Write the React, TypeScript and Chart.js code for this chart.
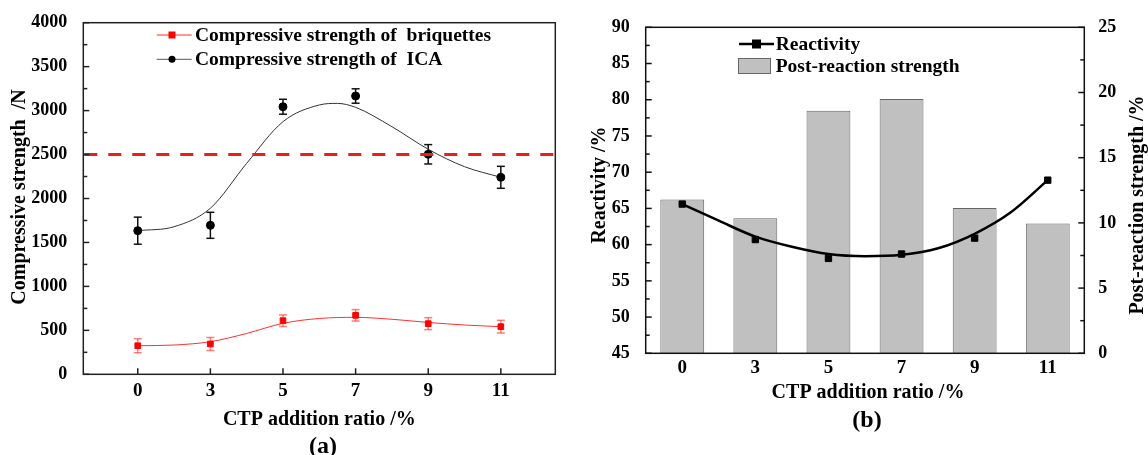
import React, { useEffect, useRef } from 'react';
import { Chart, registerables } from 'chart.js';
Chart.register(...registerables);

// ---------- data ----------
const categories = ['0', '3', '5', '7', '9', '11'];
const categoryIndex = [0, 1, 2, 3, 4, 5];

// (a) compressive strength, N
const briquetteStrength = [325, 345, 610, 671, 576, 542];
const briquetteError = [80, 74, 66, 65, 68, 72];
const icaStrength = [1634, 1695, 3044, 3166, 2503, 2241];
const icaError = [154, 148, 85, 82, 110, 125];
const thresholdStrength = 2500;
// fitted curves (position in category index units)
const icaFitPos = [0, 0.5, 1, 1.5, 2, 2.5, 2.75, 3, 3.5, 4, 4.5, 5];
const icaFit = [1634, 1679, 1889, 2400, 2874, 3064, 3082, 3037, 2817, 2560, 2362, 2241];
const briquetteFitPos = [0, 0.5, 1, 1.5, 2, 2.5, 3, 3.5, 4, 4.5, 5];
const briquetteFit = [325, 333, 371, 465, 580, 635, 648, 626, 590, 561, 542];

// (b) reactivity and post-reaction strength, %
const reactivity = [65.6, 60.7, 58.1, 58.7, 60.9, 68.9];
const postStrength = [11.8, 10.35, 18.6, 19.5, 11.15, 9.95];
const reactivityFitPos = [0, 0.5, 1, 1.5, 2, 2.5, 3, 3.5, 4, 4.5, 5];
const reactivityFit = [65.6, 63.3, 61.1, 59.7, 58.7, 58.4, 58.6, 59.5, 61.5, 64.5, 68.9];

const leftTicks = [0, 500, 1000, 1500, 2000, 2500, 3000, 3500, 4000];
const reactivityTicks = [45, 50, 55, 60, 65, 70, 75, 80, 85, 90];
const postTicks = [0, 5, 10, 15, 20, 25];

const FONT = '"Liberation Serif", "Times New Roman", Times, serif';
const f = (size: number) => ({ family: FONT, size, weight: 'bold' as const });

function text(ctx: CanvasRenderingContext2D, s: string, x: number, y: number, size: number, align: CanvasTextAlign = 'center', rot = 0) {
  ctx.save();
  ctx.font = `bold ${size}px ${FONT}`;
  ctx.fillStyle = '#000';
  ctx.textAlign = align;
  ctx.textBaseline = 'middle';
  ctx.translate(x, y);
  if (rot) ctx.rotate(rot);
  ctx.fillText(s, 0, 0);
  ctx.restore();
}

function line(ctx: CanvasRenderingContext2D, x1: number, y1: number, x2: number, y2: number) {
  ctx.beginPath();
  ctx.moveTo(x1, y1);
  ctx.lineTo(x2, y2);
  ctx.stroke();
}

// ---------- chart (a) ----------
const plotA = {
  id: 'plotA',
  beforeDatasetsDraw(chart: any) {
    const { ctx, scales } = chart;
    const xs = scales.x, ys = scales.y;
    const drawErr = (vals: number[], errs: number[], color: string) => {
      ctx.save();
      ctx.strokeStyle = color;
      ctx.lineWidth = 1.5;
      vals.forEach((v, i) => {
        const x = xs.getPixelForValue(categoryIndex[i]);
        const yTop = ys.getPixelForValue(v + errs[i]);
        const yBot = ys.getPixelForValue(v - errs[i]);
        line(ctx, x, yTop, x, yBot);
        line(ctx, x - 4, yTop, x + 4, yTop);
        line(ctx, x - 4, yBot, x + 4, yBot);
      });
      ctx.restore();
    };
    drawErr(icaStrength, icaError, '#111');
    drawErr(briquetteStrength, briquetteError, 'rgba(255,40,40,0.6)');
  },
  afterDatasetsDraw(chart: any) {
    const { ctx, chartArea: a, scales } = chart;
    const ys = scales.y;
    ctx.save();
    ctx.strokeStyle = '#ee1c1c';
    ctx.lineWidth = 3;
    ctx.setLineDash([13, 11]);
    const yt = ys.getPixelForValue(thresholdStrength);
    line(ctx, a.left + 1, yt, a.right, yt);
    ctx.restore();
  },
  afterDraw(chart: any) {
    const { ctx, chartArea: a, scales } = chart;
    const xs = scales.x, ys = scales.y;
    ctx.save();
    ctx.strokeStyle = '#222';
    ctx.lineWidth = 1.5;
    ctx.strokeRect(a.left, a.top, a.right - a.left, a.bottom - a.top);
    for (let v = 0; v <= 4000; v += 250) {
      const y = ys.getPixelForValue(v);
      const len = v % 500 === 0 ? 6 : 4;
      line(ctx, a.left, y, a.left + len, y);
    }
    categoryIndex.forEach((c) => {
      const x = xs.getPixelForValue(c);
      line(ctx, x, a.bottom, x, a.bottom - 6);
    });
    ctx.restore();

    // legend
    ctx.save();
    ctx.lineWidth = 1;
    ctx.strokeStyle = '#ff2a2a';
    line(ctx, 156.7, 35, 191.7, 35);
    ctx.fillStyle = '#ff0000';
    ctx.fillRect(172 - 3.5, 35 - 3.5, 7, 7);
    ctx.strokeStyle = '#555';
    line(ctx, 156.7, 59.3, 191.7, 59.3);
    ctx.fillStyle = '#000';
    ctx.beginPath();
    ctx.arc(172, 59.3, 3.5, 0, Math.PI * 2);
    ctx.fill();
    ctx.restore();
    text(ctx, 'Compressive strength of  briquettes', 195, 36, 19.5, 'left');
    text(ctx, 'Compressive strength of  ICA', 195, 60.3, 19.5, 'left');

    text(ctx, 'CTP addition ratio /%', (a.left + a.right) / 2, 420, 20);
    text(ctx, '(a)', 323, 447, 24);
    text(ctx, 'Compressive strength  /N', 20, 197, 20, 'center', -Math.PI / 2);
  },
};

// ---------- chart (b) ----------
const plotB = {
  id: 'plotB',
  afterDraw(chart: any) {
    const { ctx, chartArea: a, scales } = chart;
    const yl = scales.y, yr = scales.y1;
    ctx.save();
    ctx.strokeStyle = '#111';
    ctx.lineWidth = 1.5;
    ctx.strokeRect(a.left, a.top, a.right - a.left, a.bottom - a.top);
    for (let v = 45; v <= 90; v += 2.5) {
      const y = yl.getPixelForValue(v);
      const len = (v - 45) % 5 === 0 ? 6 : 4;
      line(ctx, a.left, y, a.left + len, y);
    }
    for (let v = 0; v <= 25; v += 2.5) {
      const y = yr.getPixelForValue(v);
      const len = v % 5 === 0 ? 6 : 4;
      line(ctx, a.right, y, a.right - len, y);
    }
    ctx.restore();

    // legend
    ctx.save();
    ctx.strokeStyle = '#000';
    ctx.lineWidth = 2.5;
    line(ctx, 165, 44, 200, 44);
    ctx.fillStyle = '#000';
    ctx.fillRect(182.5 - 4.5, 44 - 4.5, 9, 9);
    ctx.fillStyle = '#c0c0c0';
    ctx.fillRect(164, 58.5, 32, 15);
    ctx.strokeStyle = '#666';
    ctx.lineWidth = 1;
    ctx.strokeRect(164.5, 58.5, 32, 15);
    ctx.restore();
    text(ctx, 'Reactivity', 201.7, 45, 19.5, 'left');
    text(ctx, 'Post-reaction strength', 201.7, 66.6, 19.5, 'left');

    text(ctx, 'CTP addition ratio /%', (a.left + a.right) / 2 + 3, 393, 20);
    text(ctx, '(b)', 293, 421, 24);
    text(ctx, 'Reactivity /%', 26, 185, 20, 'center', -Math.PI / 2);
    text(ctx, 'Post-reaction strength /%', 564, 205, 20, 'center', -Math.PI / 2);
  },
};

function ChartA() {
  const ref = useRef<HTMLCanvasElement>(null);
  useEffect(() => {
    const chart = new Chart(ref.current!, {
      type: 'line',
      data: {
        datasets: [
          {
            label: 'Compressive strength of ICA',
            data: icaStrength.map((v, i) => ({ x: categoryIndex[i], y: v })),
            showLine: false,
            pointStyle: 'circle',
            pointRadius: 4,
            pointBackgroundColor: '#000',
            pointBorderColor: '#000',
            borderColor: '#000',
            order: 1,
          },
          {
            label: 'Compressive strength of  briquettes',
            data: briquetteStrength.map((v, i) => ({ x: categoryIndex[i], y: v })),
            showLine: false,
            pointStyle: 'rect',
            pointRadius: 4,
            pointBackgroundColor: '#ff0000',
            pointBorderColor: '#ff0000',
            borderColor: '#ff0000',
            order: 1,
          },
          {
            label: 'ICA fit',
            data: icaFitPos.map((p, i) => ({ x: p, y: icaFit[i] })),
            borderColor: '#333',
            borderWidth: 1,
            pointRadius: 0,
            cubicInterpolationMode: 'monotone',
            order: 2,
          },
          {
            label: 'briquette fit',
            data: briquetteFitPos.map((p, i) => ({ x: p, y: briquetteFit[i] })),
            borderColor: '#ff3030',
            borderWidth: 1,
            pointRadius: 0,
            cubicInterpolationMode: 'monotone',
            order: 2,
          },
        ],
      },
      options: {
        animation: false,
        responsive: false,
        layout: { padding: { top: 22.7, right: 14.7, left: 0, bottom: 0 } },
        plugins: { legend: { display: false }, tooltip: { enabled: false } },
        scales: {
          x: {
            type: 'linear',
            min: -0.75,
            max: 5.75,
            grid: { display: false },
            border: { display: false },
            afterBuildTicks: (s: any) => {
              s.ticks = categoryIndex.map((v) => ({ value: v }));
            },
            afterFit: (s: any) => {
              s.height = 80.7;
            },
            ticks: {
              callback: (v: any) => categories[v as number],
              font: f(19),
              color: '#000',
              padding: -3,
              autoSkip: false,
              maxRotation: 0,
            },
          },
          y: {
            min: 0,
            max: 4000,
            grid: { display: false },
            border: { display: false },
            afterBuildTicks: (s: any) => {
              s.ticks = leftTicks.map((v) => ({ value: v }));
            },
            afterFit: (s: any) => {
              s.width = 83.3;
            },
            ticks: { font: f(18), color: '#000', padding: 8, callback: (v: any) => String(v) },
          },
        },
      },
      plugins: [plotA],
    } as any);
    return () => chart.destroy();
  }, []);
  return <canvas ref={ref} width={570} height={455} style={{ position: 'absolute', left: 0, top: 0, width: 570, height: 455 }} />;
}

function ChartB() {
  const ref = useRef<HTMLCanvasElement>(null);
  useEffect(() => {
    const chart = new Chart(ref.current!, {
      type: 'line',
      data: {
        datasets: [
          {
            type: 'line',
            label: 'Reactivity',
            data: reactivity.map((v, i) => ({ x: categoryIndex[i], y: v })),
            yAxisID: 'y',
            showLine: false,
            pointStyle: 'rect',
            pointRadius: 4.5,
            pointBackgroundColor: '#000',
            pointBorderColor: '#000',
            order: 0,
          },
          {
            type: 'line',
            label: 'Reactivity fit',
            data: reactivityFitPos.map((p, i) => ({ x: p, y: reactivityFit[i] })),
            yAxisID: 'y',
            borderColor: '#000',
            borderWidth: 2.5,
            pointRadius: 0,
            cubicInterpolationMode: 'monotone',
            order: 1,
          },
          {
            type: 'bar',
            label: 'Post-reaction strength',
            data: postStrength.map((v, i) => ({ x: categoryIndex[i], y: v })),
            yAxisID: 'y1',
            backgroundColor: '#c0c0c0',
            borderColor: '#666',
            borderWidth: 1,
            barPercentage: 0.6,
            categoryPercentage: 1,
            order: 3,
          },
        ],
      },
      options: {
        animation: false,
        responsive: false,
        layout: { padding: { top: 27.3, right: 0, left: 0, bottom: 0 } },
        plugins: { legend: { display: false }, tooltip: { enabled: false } },
        scales: {
          x: {
            type: 'linear',
            min: -0.5,
            max: 5.5,
            offset: false,
            grid: { display: false },
            border: { display: false },
            afterBuildTicks: (s: any) => {
              s.ticks = categoryIndex.map((v) => ({ value: v }));
            },
            afterFit: (s: any) => {
              s.height = 101.7;
            },
            ticks: {
              callback: (v: any) => categories[v as number],
              font: f(19),
              color: '#000',
              padding: -5,
              autoSkip: false,
              maxRotation: 0,
            },
          },
          y: {
            position: 'left',
            min: 45,
            max: 90,
            grid: { display: false },
            border: { display: false },
            afterBuildTicks: (s: any) => {
              s.ticks = reactivityTicks.map((v) => ({ value: v }));
            },
            afterFit: (s: any) => {
              s.width = 71.7;
            },
            ticks: { font: f(18), color: '#000', padding: 8 },
          },
          y1: {
            position: 'right',
            min: 0,
            max: 25,
            grid: { display: false },
            border: { display: false },
            afterBuildTicks: (s: any) => {
              s.ticks = postTicks.map((v) => ({ value: v }));
            },
            afterFit: (s: any) => {
              s.width = 63.7;
            },
            ticks: { font: f(18), color: '#000', padding: 6 },
          },
        },
      },
      plugins: [plotB],
    } as any);
    return () => chart.destroy();
  }, []);
  return <canvas ref={ref} width={574} height={455} style={{ position: 'absolute', left: 574, top: 0, width: 574, height: 455 }} />;
}

export default function App() {
  return (
    <div style={{ position: 'fixed', left: 0, top: 0, width: 1148, height: 455, background: '#fff', overflow: 'hidden' }}>
      <ChartA />
      <ChartB />
    </div>
  );
}
